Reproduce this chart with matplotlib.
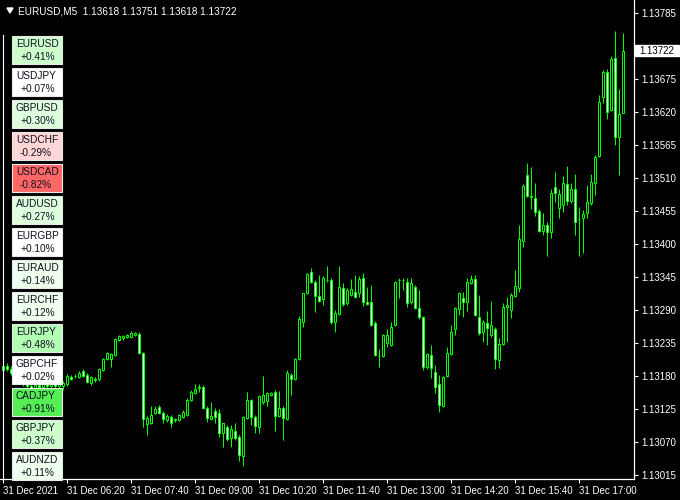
import matplotlib
matplotlib.use("Agg")
import matplotlib.pyplot as plt
from matplotlib.patches import Rectangle, Polygon

plt.rcParams['font.family'] = ['Liberation Sans', 'DejaVu Sans']

# EURUSD M5, 31 Dec 2021, bars from 05:00 to 17:55
opens = [
    1.13190, 1.13197, 1.13192, 1.13185, 1.13178, 1.13173, 1.13167, 1.13163, 1.13160, 1.13165,
    1.13162, 1.13167, 1.13163, 1.13168, 1.13163, 1.13163, 1.13167, 1.13178, 1.13180, 1.13178,
    1.13188, 1.13182, 1.13168, 1.13175, 1.13175, 1.13190, 1.13208, 1.13208, 1.13215, 1.13240,
    1.13243, 1.13245, 1.13245, 1.13248, 1.13250, 1.13218, 1.13100, 1.13102, 1.13118, 1.13128,
    1.13118, 1.13107, 1.13112, 1.13107, 1.13107, 1.13112, 1.13115, 1.13140, 1.13152, 1.13160,
    1.13162, 1.13127, 1.13108, 1.13122, 1.13118, 1.13085, 1.13095, 1.13077, 1.13088, 1.13078,
    1.13047, 1.13110, 1.13140, 1.13112, 1.13095, 1.13137, 1.13138, 1.13148, 1.13153, 1.13113,
    1.13127, 1.13108, 1.13182, 1.13175, 1.13208, 1.13270, 1.13318, 1.13353, 1.13337, 1.13313,
    1.13308, 1.13340, 1.13340, 1.13270, 1.13283, 1.13327, 1.13302, 1.13315, 1.13320, 1.13318,
    1.13343, 1.13303, 1.13303, 1.13268, 1.13213, 1.13213, 1.13235, 1.13232, 1.13265, 1.13340,
    1.13340, 1.13337, 1.13303, 1.13328, 1.13293, 1.13278, 1.13195, 1.13215, 1.13187, 1.13167,
    1.13130, 1.13180, 1.13217, 1.13258, 1.13292, 1.13310, 1.13303, 1.13335, 1.13342, 1.13278,
    1.13253, 1.13268, 1.13248, 1.13258, 1.13207, 1.13233, 1.13295, 1.13290, 1.13313, 1.13327,
    1.13405, 1.13515, 1.13480, 1.13477, 1.13455, 1.13422, 1.13432, 1.13420, 1.13495, 1.13460,
    1.13465, 1.13500, 1.13472, 1.13492, 1.13442, 1.13443, 1.13452, 1.13468, 1.13502, 1.13547,
    1.13645, 1.13687, 1.13623, 1.13710, 1.13578, 1.13618]
highs = [
    1.13203, 1.13202, 1.13197, 1.13190, 1.13183, 1.13180, 1.13173, 1.13168, 1.13167, 1.13172,
    1.13170, 1.13173, 1.13172, 1.13173, 1.13170, 1.13172, 1.13183, 1.13182, 1.13183, 1.13188,
    1.13192, 1.13185, 1.13180, 1.13178, 1.13193, 1.13210, 1.13220, 1.13218, 1.13243, 1.13248,
    1.13248, 1.13250, 1.13255, 1.13253, 1.13253, 1.13220, 1.13113, 1.13130, 1.13130, 1.13132,
    1.13122, 1.13117, 1.13115, 1.13110, 1.13117, 1.13123, 1.13143, 1.13157, 1.13167, 1.13167,
    1.13165, 1.13130, 1.13137, 1.13127, 1.13125, 1.13102, 1.13098, 1.13098, 1.13102, 1.13082,
    1.13113, 1.13153, 1.13142, 1.13115, 1.13148, 1.13180, 1.13153, 1.13153, 1.13157, 1.13155,
    1.13130, 1.13190, 1.13185, 1.13210, 1.13280, 1.13318, 1.13352, 1.13360, 1.13340, 1.13348,
    1.13347, 1.13363, 1.13343, 1.13290, 1.13363, 1.13335, 1.13327, 1.13342, 1.13348, 1.13347,
    1.13352, 1.13328, 1.13332, 1.13272, 1.13225, 1.13250, 1.13258, 1.13270, 1.13338, 1.13343,
    1.13343, 1.13343, 1.13343, 1.13332, 1.13323, 1.13280, 1.13218, 1.13232, 1.13198, 1.13182,
    1.13180, 1.13228, 1.13265, 1.13295, 1.13320, 1.13320, 1.13343, 1.13348, 1.13348, 1.13315,
    1.13273, 1.13288, 1.13305, 1.13262, 1.13243, 1.13302, 1.13312, 1.13318, 1.13357, 1.13432,
    1.13500, 1.13535, 1.13528, 1.13502, 1.13458, 1.13452, 1.13437, 1.13492, 1.13520, 1.13492,
    1.13513, 1.13530, 1.13502, 1.13517, 1.13462, 1.13457, 1.13498, 1.13517, 1.13548, 1.13648,
    1.13690, 1.13692, 1.13713, 1.13755, 1.13658, 1.13751]
lows = [
    1.13185, 1.13188, 1.13182, 1.13175, 1.13170, 1.13163, 1.13158, 1.13155, 1.13153, 1.13157,
    1.13155, 1.13158, 1.13157, 1.13160, 1.13158, 1.13157, 1.13163, 1.13173, 1.13177, 1.13177,
    1.13178, 1.13168, 1.13165, 1.13170, 1.13172, 1.13188, 1.13207, 1.13195, 1.13213, 1.13238,
    1.13240, 1.13243, 1.13243, 1.13247, 1.13217, 1.13095, 1.13082, 1.13100, 1.13117, 1.13117,
    1.13102, 1.13103, 1.13095, 1.13103, 1.13105, 1.13110, 1.13113, 1.13138, 1.13150, 1.13153,
    1.13125, 1.13103, 1.13107, 1.13102, 1.13078, 1.13062, 1.13072, 1.13062, 1.13073, 1.13038,
    1.13030, 1.13108, 1.13098, 1.13085, 1.13085, 1.13133, 1.13130, 1.13147, 1.13088, 1.13112,
    1.13073, 1.13107, 1.13148, 1.13173, 1.13207, 1.13262, 1.13317, 1.13335, 1.13287, 1.13303,
    1.13298, 1.13337, 1.13267, 1.13253, 1.13282, 1.13297, 1.13298, 1.13313, 1.13310, 1.13312,
    1.13297, 1.13298, 1.13263, 1.13213, 1.13195, 1.13212, 1.13228, 1.13230, 1.13263, 1.13310,
    1.13323, 1.13295, 1.13300, 1.13292, 1.13275, 1.13190, 1.13192, 1.13177, 1.13152, 1.13120,
    1.13128, 1.13178, 1.13215, 1.13248, 1.13282, 1.13278, 1.13288, 1.13333, 1.13280, 1.13248,
    1.13237, 1.13232, 1.13245, 1.13192, 1.13193, 1.13232, 1.13237, 1.13277, 1.13312, 1.13320,
    1.13395, 1.13478, 1.13458, 1.13447, 1.13420, 1.13415, 1.13380, 1.13410, 1.13470, 1.13443,
    1.13453, 1.13465, 1.13468, 1.13415, 1.13380, 1.13385, 1.13443, 1.13465, 1.13482, 1.13545,
    1.13635, 1.13608, 1.13622, 1.13565, 1.13515, 1.13618]
closes = [
    1.13197, 1.13192, 1.13185, 1.13178, 1.13173, 1.13167, 1.13163, 1.13160, 1.13165, 1.13162,
    1.13167, 1.13163, 1.13168, 1.13163, 1.13167, 1.13168, 1.13180, 1.13175, 1.13180, 1.13185,
    1.13180, 1.13170, 1.13178, 1.13173, 1.13192, 1.13208, 1.13218, 1.13217, 1.13242, 1.13247,
    1.13247, 1.13248, 1.13252, 1.13252, 1.13218, 1.13108, 1.13110, 1.13115, 1.13125, 1.13118,
    1.13108, 1.13113, 1.13102, 1.13108, 1.13115, 1.13120, 1.13140, 1.13153, 1.13158, 1.13162,
    1.13127, 1.13110, 1.13113, 1.13112, 1.13085, 1.13102, 1.13075, 1.13092, 1.13077, 1.13048,
    1.13112, 1.13140, 1.13112, 1.13097, 1.13147, 1.13148, 1.13152, 1.13152, 1.13113, 1.13127,
    1.13110, 1.13185, 1.13175, 1.13208, 1.13275, 1.13318, 1.13350, 1.13337, 1.13313, 1.13305,
    1.13343, 1.13340, 1.13270, 1.13285, 1.13328, 1.13300, 1.13323, 1.13325, 1.13312, 1.13342,
    1.13303, 1.13300, 1.13265, 1.13215, 1.13213, 1.13248, 1.13248, 1.13262, 1.13337, 1.13340,
    1.13340, 1.13302, 1.13335, 1.13293, 1.13278, 1.13195, 1.13217, 1.13193, 1.13162, 1.13132,
    1.13178, 1.13218, 1.13253, 1.13293, 1.13318, 1.13303, 1.13337, 1.13342, 1.13282, 1.13252,
    1.13270, 1.13260, 1.13265, 1.13208, 1.13233, 1.13295, 1.13298, 1.13315, 1.13330, 1.13408,
    1.13497, 1.13480, 1.13478, 1.13453, 1.13422, 1.13432, 1.13420, 1.13485, 1.13485, 1.13483,
    1.13502, 1.13472, 1.13492, 1.13437, 1.13442, 1.13450, 1.13470, 1.13503, 1.13545, 1.13637,
    1.13687, 1.13620, 1.13708, 1.13578, 1.13617, 1.13722]

time_labels = ["31 Dec 2021", "31 Dec 06:20", "31 Dec 07:40", "31 Dec 09:00",
               "31 Dec 10:20", "31 Dec 11:40", "31 Dec 13:00", "31 Dec 14:20",
               "31 Dec 15:40", "31 Dec 17:00"]
price_ticks = [1.13015, 1.13070, 1.13125, 1.13180, 1.13235, 1.13290, 1.13345, 1.13400,
               1.13455, 1.13510, 1.13565, 1.13620, 1.13675, 1.13730, 1.13785]

pairs = ["EURUSD", "USDJPY", "GBPUSD", "USDCHF", "USDCAD", "AUDUSD", "EURGBP",
         "EURAUD", "EURCHF", "EURJPY", "GBPCHF", "CADJPY", "GBPJPY", "AUDNZD"]
changes = [0.41, 0.07, 0.30, -0.29, -0.82, 0.27, 0.10,
           0.14, 0.12, 0.48, 0.02, 0.91, 0.37, 0.11]
box_colors = ["#ccffcc", "#ffffff", "#ddffdd", "#ffd6d6", "#ff6666", "#ddffdd", "#ffffff",
              "#eeffee", "#eeffee", "#b3ffb3", "#ffffff", "#55ee55", "#ccffcc", "#eeffee"]

W, H = 680, 500
fig = plt.figure(figsize=(W / 100, H / 100), dpi=100, facecolor="black")
ax = fig.add_axes([0, 21 / H, 634 / W, 479 / H])
ax.set_facecolor("black")

lime = "#00ff00"
x = list(range(len(opens)))
ax.vlines(x, lows, highs, color=lime, linewidth=0.72, zorder=2)
bottoms = [min(o, c) for o, c in zip(opens, closes)]
heights = [abs(c - o) for o, c in zip(opens, closes)]
fills = ["black" if c >= o else "white" for o, c in zip(opens, closes)]
ax.bar(x, heights, bottom=bottoms, width=0.5, color=fills, edgecolor=lime,
       linewidth=0.72, zorder=3)

ax.set_xlim(-0.825, 157.675)
ax.set_ylim(1.134 - 235 / 60000, 1.134 + 244 / 60000)

for s in ["top", "left"]:
    ax.spines[s].set_visible(False)
for s in ["right", "bottom"]:
    ax.spines[s].set_color("white")
    ax.spines[s].set_linewidth(0.9)

ax.yaxis.tick_right()
ax.set_yticks(price_ticks)
# the 1.13730 label sits under the current price marker
ax.set_yticklabels(["" if abs(p - 1.13730) < 1e-7 else "%.5f" % p for p in price_ticks])
ax.tick_params(axis="y", colors="white", length=3, width=0.8, pad=2, labelsize=7)
ax.set_xticks(range(0, 160, 16))
ax.set_xticklabels(time_labels, ha="left")
ax.tick_params(axis="x", colors="white", length=3, width=0.8, pad=2, labelsize=7)


def fx(px):
    return px / W


def fy(py):
    return 1 - py / H


# header
fig.add_artist(Polygon([(fx(7), fy(8)), (fx(13), fy(8)), (fx(10), fy(13))],
                       closed=True, color="white", transform=fig.transFigure))
fig.text(fx(18), fy(11), "EURUSD,M5  1.13618 1.13751 1.13618 1.13722",
         color="white", fontsize=7.2, va="center", ha="left")

# left separator line
fig.add_artist(plt.Line2D([fx(3), fx(3)], [fy(35), fy(479)], color="white",
                          linewidth=0.8, transform=fig.transFigure))

# currency strength panel
for i, (name, ch, col) in enumerate(zip(pairs, changes, box_colors)):
    top = 36 + 32 * i
    fig.add_artist(Rectangle((fx(12), fy(top + 28)), 50 / W, 28 / H,
                             facecolor=col, edgecolor="#e8e8e8", linewidth=0.8,
                             transform=fig.transFigure, zorder=5))
    fig.text(fx(16), fy(top + 8), name, fontsize=7.3, color="#101020",
             va="center", ha="left", zorder=6)
    fig.text(fx(20), fy(top + 21), "%+.2f%%" % ch, fontsize=7.3, color="#101020",
             va="center", ha="left", zorder=6)

# current price label
last = closes[-1]
fig.add_artist(Rectangle((fx(635), fy(56)), 44 / W, 11 / H, facecolor="white",
                         edgecolor="white", transform=fig.transFigure, zorder=5))
fig.text(fx(639), fy(50.5), "%.5f" % last, fontsize=7, color="black",
         va="center", ha="left", zorder=6)

fig.savefig("out.png", dpi=100, facecolor="black")
